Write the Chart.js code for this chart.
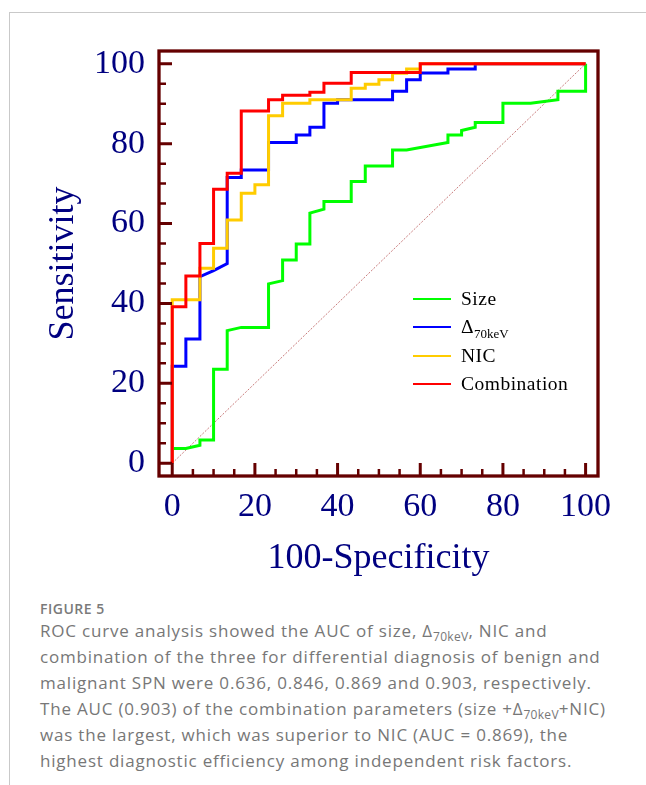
<!DOCTYPE html>
<html>
<head>
<meta charset="utf-8">
<script src="https://cdn.jsdelivr.net/npm/chart.js@4.4.1/dist/chart.umd.min.js"></script>
<style>
  html, body { margin: 0; padding: 0; background: #fff; }
  body { width: 646px; height: 785px; position: relative; overflow: hidden; }
  #frameTop { position: absolute; left: 9px; top: 12px; width: 637px; height: 0; border-top: 1.5px solid #c9c9c9; }
  #frameLeft { position: absolute; left: 9px; top: 12px; width: 0; height: 773px; border-left: 1.5px solid #c9c9c9; }
  #wrap { position: absolute; left: 0; top: 0; width: 646px; height: 590px; }
  #legend { position: absolute; left: 413px; top: 285px; font-family: "Liberation Serif", serif; font-size: 19.5px; letter-spacing: 0.5px; color: #000; }
  #legend .row { position: relative; height: 28.3px; }
  #legend .swatch { position: absolute; left: 0; top: 13px; width: 38px; height: 2px; }
  #legend .lbl { position: absolute; left: 48px; top: 0; line-height: 28px; white-space: nowrap; }
  #legend sub { font-size: 13px; letter-spacing: 0; vertical-align: -5px; }
  #figlabel { position: absolute; left: 40px; top: 599px; font-family: "Open Sans", sans-serif; font-weight: 600; font-size: 14px; letter-spacing: 0.5px; line-height: 20px; color: #7a7a7a; }
  #caption { position: absolute; left: 40px; top: 618px; font-family: "Open Sans", sans-serif; font-size: 17px; letter-spacing: 0.8px; line-height: 26px; color: #777; white-space: nowrap; }
  #caption sub { font-size: 12px; letter-spacing: 0.3px; vertical-align: -4px; line-height: 0; }
</style>
</head>
<body>
<div id="frameTop"></div>
<div id="frameLeft"></div>
<div id="wrap"><canvas id="roc" width="646" height="590"></canvas></div>
<div id="legend"></div>
<div id="figlabel">FIGURE 5</div>
<div id="caption">
ROC curve analysis showed the AUC of size, Δ<sub>70keV</sub>, NIC and<br>
combination of the three for differential diagnosis of benign and<br>
malignant SPN were 0.636, 0.846, 0.869 and 0.903, respectively.<br>
The AUC (0.903) of the combination parameters (size +Δ<sub>70keV</sub>+NIC)<br>
was the largest, which was superior to NIC (AUC = 0.869), the<br>
highest diagnostic efficiency among independent risk factors.
</div>
<script>
// tick labels
const tickValues = [0, 20, 40, 60, 80, 100];

// series names and colours
const seriesNames = ['Size', 'Δ70keV', 'NIC', 'Combination'];
const seriesLegend = ['Size', 'Δ<sub>70keV</sub>', 'NIC', 'Combination'];
const seriesColors = ['#00ff00', '#0000ff', '#ffcc00', '#ff0000'];

// [100-Specificity, Sensitivity]
const sizeCurve = [[0, 3.7], [3.3, 3.7], [6.7, 4.5], [6.7, 5.8], [10, 5.8], [10, 23.5], [13.3, 23.5], [13.3, 33.2],
  [16.7, 34], [23.3, 34], [23.3, 44.9], [26.7, 45.7], [26.7, 50.9], [30, 50.9], [30, 54.9], [33.3, 54.9],
  [33.3, 62.6], [36.7, 63.6], [36.7, 65.5], [43.3, 65.5], [43.3, 70.5], [46.7, 70.5], [46.7, 74.4],
  [53.3, 74.4], [53.3, 78.4], [56.7, 78.4], [66.7, 80.3], [66.7, 82.2], [70, 82.2], [70, 83.3], [73.3, 84.1],
  [73.3, 85.3], [80, 85.3], [80, 90.1], [86.7, 90.1], [93.3, 91], [93.3, 93.1], [100, 93.1], [100, 100]];

const deltaCurve = [[0, 0], [0, 24.3], [3.3, 24.3], [3.3, 31.1], [6.7, 31.1], [6.7, 46.7], [10, 48.2], [13.3, 50],
  [13.3, 71.5], [16.7, 71.5], [16.7, 73.4], [23.3, 73.4], [23.3, 80.3], [30, 80.3], [30, 82.2], [33.3, 82.2],
  [33.3, 84.1], [36.7, 84.1], [36.7, 90.1], [40, 90.1], [40, 91], [53.3, 91], [53.3, 93.1], [56.7, 93.1],
  [56.7, 96], [60, 96], [60, 97.7], [66.7, 97.7], [66.7, 98.7], [73.3, 98.7], [73.3, 100], [100, 100]];

const nicCurve = [[0, 0], [0, 40.9], [6.7, 40.9], [6.7, 48.8], [10, 48.8], [10, 53.8], [13.3, 53.8], [13.3, 60.9],
  [16.7, 60.9], [16.7, 67.6], [20, 67.6], [20, 69.7], [23.3, 69.7], [23.3, 87], [26.7, 87], [26.7, 90.1],
  [33.3, 90.1], [33.3, 91], [43.3, 91], [43.3, 93.9], [46.7, 93.9], [46.7, 94.9], [50, 94.9], [50, 96],
  [53.3, 96], [53.3, 97.6], [56.7, 97.6], [56.7, 98.7], [60, 98.7], [60, 100], [100, 100]];

const comboCurve = [[0, 0], [0, 39.2], [3.3, 39.2], [3.3, 46.9], [6.7, 46.9], [6.7, 55], [10, 55], [10, 68.6],
  [13.3, 68.6], [13.3, 72.6], [16.7, 72.6], [16.7, 88.2], [23.3, 88.2], [23.3, 91], [26.7, 91], [26.7, 92.1],
  [33.3, 92.1], [33.3, 92.9], [36.7, 92.9], [36.7, 95.1], [43.3, 95.1], [43.3, 97.8], [60, 97.8], [60, 100],
  [100, 100]];

const chanceLine = [[0, 0], [100, 100]];

const frameColor = '#650000';
const labelColor = '#000080';

const toPoints = arr => arr.map(p => ({x: p[0], y: p[1]}));
const curves = [sizeCurve, deltaCurve, nicCurve, comboCurve];
const drawOrder = [4, 3, 2, 1];

const datasets = curves.map((c, i) => ({
  label: seriesNames[i],
  data: toPoints(c),
  borderColor: seriesColors[i],
  borderWidth: 3,
  pointRadius: 0,
  tension: 0,
  fill: false,
  order: drawOrder[i]
}));
datasets.push({
  label: 'Reference',
  data: toPoints(chanceLine),
  borderColor: 'rgba(190, 100, 100, 0.85)',
  borderWidth: 1,
  borderDash: [2, 1.5],
  pointRadius: 0,
  fill: false,
  order: 5
});

// frame round the plot with ticks pointing inward
const frameTicks = {
  id: 'frameTicks',
  afterDatasetsDraw(chart) {
    const {ctx, chartArea: a, scales: {x, y}} = chart;
    ctx.save();
    ctx.strokeStyle = frameColor;
    for (let v = 0; v <= 100; v += 5) {
      const major = tickValues.includes(v);
      const len = major ? 13 : 7;
      ctx.lineWidth = major ? 3 : 2.5;
      const px = x.getPixelForValue(v);
      const py = y.getPixelForValue(v);
      ctx.beginPath();
      ctx.moveTo(px, a.bottom);
      ctx.lineTo(px, a.bottom - len);
      ctx.moveTo(a.left, py);
      ctx.lineTo(a.left + len, py);
      ctx.stroke();
    }
    ctx.lineWidth = 3.3;
    ctx.strokeRect(a.left, a.top, a.right - a.left, a.bottom - a.top);
    ctx.restore();
  }
};

Chart.defaults.font.family = '"Liberation Serif", "Times New Roman", serif';

const ctx = document.getElementById('roc').getContext('2d');
const rocChart = new Chart(ctx, {
  type: 'line',
  data: { datasets: datasets },
  options: {
    responsive: false,
    animation: false,
    layout: { padding: { top: 51, right: 48, bottom: 0, left: 0 } },
    plugins: { legend: { display: false }, tooltip: { enabled: false } },
    scales: {
      x: {
        type: 'linear',
        min: -3.2,
        max: 103,
        grid: { display: false, drawTicks: false },
        border: { display: false },
        afterBuildTicks: s => { s.ticks = tickValues.map(v => ({value: v})); },
        afterFit: s => { s.height = 114; },
        ticks: { color: labelColor, font: { size: 34 }, padding: 11, autoSkip: false, maxRotation: 0 },
        title: { display: true, text: '100-Specificity', color: labelColor, font: { size: 36 }, padding: { top: 0, bottom: 10 } }
      },
      y: {
        type: 'linear',
        min: -3.2,
        max: 103.2,
        grid: { display: false, drawTicks: false },
        border: { display: false },
        afterBuildTicks: s => { s.ticks = tickValues.map(v => ({value: v})); },
        afterFit: s => { s.width = 159; },
        ticks: { color: labelColor, font: { size: 34 }, padding: 14, autoSkip: false },
        title: { display: true, text: 'Sensitivity', color: labelColor, font: { size: 36 }, padding: { top: 42, bottom: 0 } }
      }
    }
  },
  plugins: [frameTicks]
});

// legend built from the series
const legendEl = document.getElementById('legend');
seriesNames.forEach((name, i) => {
  const row = document.createElement('div');
  row.className = 'row';
  row.innerHTML = '<div class="swatch" style="background:' + seriesColors[i] + '"></div>' +
    '<div class="lbl">' + seriesLegend[i] + '</div>';
  legendEl.appendChild(row);
});
</script>
</body>
</html>
